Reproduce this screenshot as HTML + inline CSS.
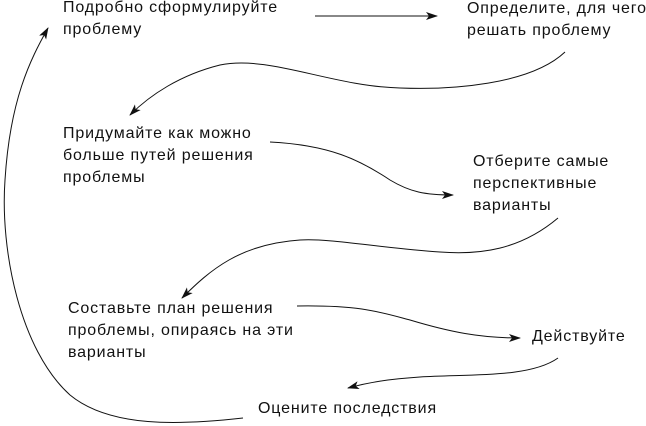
<!DOCTYPE html>
<html><head><meta charset="utf-8"><style>
html,body{margin:0;padding:0;background:#fff;}
body{width:646px;height:426px;position:relative;overflow:hidden;font-family:"Liberation Sans","DejaVu Sans",sans-serif;font-size:16px;letter-spacing:0.85px;color:#111;}
.t{position:absolute;line-height:22px;white-space:nowrap;}
svg{position:absolute;left:0;top:0;}
</style></head><body>
<svg width="646" height="426" viewBox="0 0 646 426">
<defs><marker id="a" markerWidth="12" markerHeight="8" refX="11" refY="4" orient="auto" markerUnits="userSpaceOnUse">
<path d="M0,0 L12,4 L0,8 L3,4 Z" fill="#111"/></marker></defs>
<g fill="none" stroke="#111" stroke-width="1" marker-end="url(#a)">
<path d="M315,16 L437,16"/>
<path d="M565,52 C530,85 450,90 400,88 C330,86 270,55 220,65 C180,75 150,95 130,115"/>
<path d="M270,142 C330,145 360,160 390,180 C410,192 425,195 453,195"/>
<path d="M558,218 C520,250 480,255 440,252 C380,248 330,238 300,240 C240,244 210,270 182,298"/>
<path d="M297,306 C360,305 380,312 410,320 C450,332 480,338 520,338"/>
<path d="M558,358 C530,378 470,374 420,377 C390,379 370,382 348,388"/>
<path d="M243,418 C180,425 110,428 70,395 C20,350 0,250 5,180 C10,100 30,60 48,28"/>
</g></svg>
<div class="t" style="left:63px;top:-3px">Подробно сформулируйте<br>проблему</div>
<div class="t" style="left:467px;top:-2px">Определите, для чего<br>решать проблему</div>
<div class="t" style="left:63px;top:123px">Придумайте как можно<br>больше путей решения<br>проблемы</div>
<div class="t" style="left:473px;top:151px">Отберите самые<br>перспективные<br>варианты</div>
<div class="t" style="left:68px;top:298px">Составьте план решения<br>проблемы, опираясь на эти<br>варианты</div>
<div class="t" style="left:532px;top:326px">Действуйте</div>
<div class="t" style="left:258px;top:398px">Оцените последствия</div>
</body></html>
